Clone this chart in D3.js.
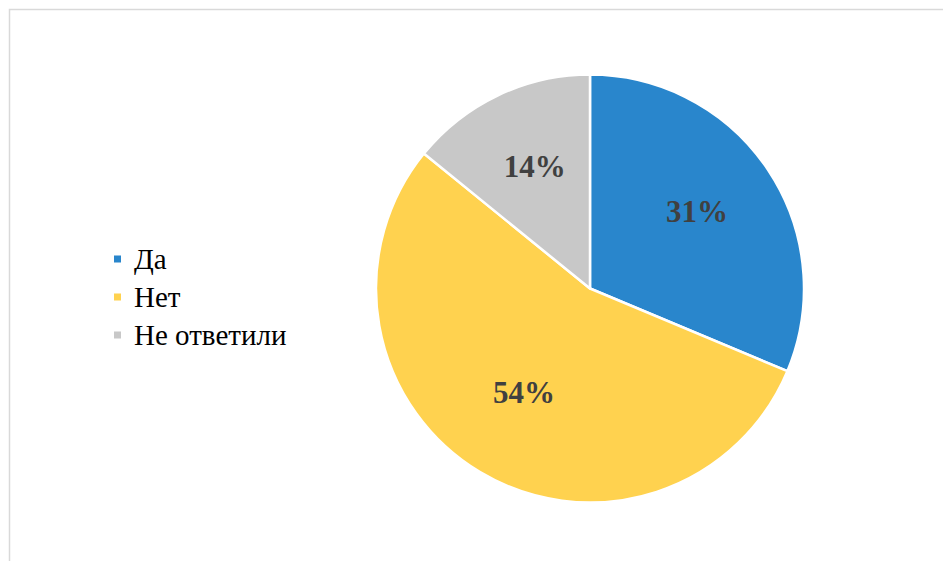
<!DOCTYPE html>
<html>
<head>
<meta charset="utf-8">
<script src="https://cdn.jsdelivr.net/npm/d3@7"></script>
<style>
  html, body { margin: 0; padding: 0; background: #fff; }
  svg { display: block; }
</style>
</head>
<body>
<svg id="chart" width="943" height="561"></svg>
<script>
// Survey answers (percent)
const categories = ["Да", "Нет", "Не ответили"];
const values = [31, 54, 14];
const labels = ["31%", "54%", "14%"];
const colors = ["#2986CC", "#FFD24F", "#C8C8C8"];

const serif = '"Liberation Serif", "Times New Roman", serif';

const svg = d3.select("#chart");
const W = 943, H = 561;

// Chart area frame
svg.append("rect")
  .attr("x", 9.5).attr("y", 9.5)
  .attr("width", W + 20).attr("height", H + 20)
  .attr("fill", "#fff")
  .attr("stroke", "#D9D9D9")
  .attr("stroke-width", 1.5);

const cx = 590, cy = 288.5, r = 214;

const pie = d3.pie().sort(null).value(d => d);
const arcs = pie(values);

const arc = d3.arc().innerRadius(0).outerRadius(r);
const labelArc = d3.arc().innerRadius(r * 0.6).outerRadius(r * 0.6);

const g = svg.append("g").attr("transform", `translate(${cx},${cy})`);

g.selectAll("path.slice")
  .data(arcs)
  .enter().append("path")
  .attr("class", "slice")
  .attr("d", arc)
  .attr("fill", (d, i) => colors[i])
  .attr("stroke", "#fff")
  .attr("stroke-width", 2.5)
  .attr("stroke-linejoin", "round");

// Percentage labels inside the slices
g.selectAll("text.lbl")
  .data(arcs)
  .enter().append("text")
  .attr("class", "lbl")
  .attr("transform", d => `translate(${labelArc.centroid(d)})`)
  .attr("text-anchor", "middle")
  .attr("dy", "0.15em")
  .style("font-family", serif)
  .style("font-weight", "bold")
  .style("font-size", "31px")
  .attr("fill", "#404040")
  .text((d, i) => labels[i]);

// Legend
const legend = svg.append("g").attr("transform", "translate(114,259)");
const rowH = 38;
const items = legend.selectAll("g.item")
  .data(categories)
  .enter().append("g")
  .attr("class", "item")
  .attr("transform", (d, i) => `translate(0,${i * rowH})`);

items.append("rect")
  .attr("x", 0).attr("y", -3.5)
  .attr("width", 7).attr("height", 7)
  .attr("fill", (d, i) => colors[i]);

items.append("text")
  .attr("x", 20).attr("y", 0)
  .attr("dy", "0.33em")
  .style("font-family", serif)
  .style("font-size", "29px")
  .attr("fill", "#000")
  .text(d => d);
</script>
</body>
</html>
